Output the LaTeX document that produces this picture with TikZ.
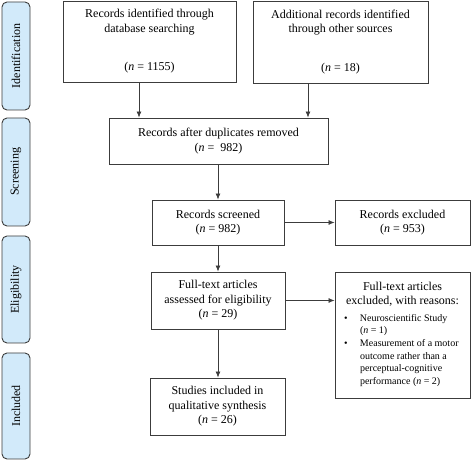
\documentclass[tikz,border=0pt]{standalone}
\usepackage{fontspec}
\setmainfont{Liberation Serif}
\usepackage{array}
\usetikzlibrary{arrows.meta}
\definecolor{phasefill}{HTML}{D2EAFA}
\definecolor{boxline}{HTML}{3C3C3C}
\newcommand{\nn}{\textit{n}}

\begin{document}
\begin{tikzpicture}[
    x=1pt, y=-1pt,
    flow box/.style={draw=boxline, line width=0.9pt, align=center, inner sep=2pt,
        font=\fontsize{12}{14.5}\selectfont},
    phase box/.style={draw=boxline, line width=0.9pt, fill=phasefill, rounded corners=5pt,
        rotate=90, minimum height=28pt, font=\fontsize{12}{14.5}\selectfont},
    flow arrow/.style={-{Latex[length=6pt,width=5pt]}, draw=boxline, line width=0.7pt},
    every node/.style={color=black}
    ]
    \useasboundingbox (0,0) rectangle (472,462);

    % phases
    \node[phase box, minimum width=108pt] (ident) at (16,56) {Identification};
    \node[phase box, minimum width=108pt] (screen) at (16,172) {Screening};
    \node[phase box, minimum width=107pt] (elig) at (16,289.5) {Eligibility};
    \node[phase box, minimum width=106pt] (incl) at (16,406) {Included};

    % records
    \node[flow box, minimum width=173pt, minimum height=81pt] (dbrec) at (149.5,41.5)
        {Records identified through\\database searching\\[24pt](\nn{} = 1155)};
    \node[flow box, minimum width=175pt, minimum height=82pt] (otherrec) at (340.5,42)
        {Additional records identified\\through other sources\\[24pt](\nn{} = 18)};
    \node[flow box, minimum width=219pt, minimum height=46pt] (dedup) at (218.5,141)
        {Records after duplicates removed\\(\nn{} =\ \ 982)};
    \node[flow box, minimum width=132pt, minimum height=45pt] (screened) at (218,222.5)
        {Records screened\\(\nn{} = 982)};
    \node[flow box, minimum width=135pt, minimum height=45pt] (excl) at (402.5,222.5)
        {Records excluded\\(\nn{} = 953)};
    \node[flow box, minimum width=134pt, minimum height=57pt] (fulltext) at (218,300.5)
        {Full-text articles\\assessed for eligibility\\(\nn{} = 29)};
    \node[flow box, minimum width=135pt, minimum height=126pt] (ftexcl) at (402.5,335)
        {Full-text articles\\excluded, with reasons:\\[5pt]
        {\fontsize{10}{12.6}\selectfont
        \begin{tabular}{@{}>{\raggedright}p{16pt}@{}>{\raggedright\arraybackslash}p{101pt}@{}}
        \textbullet & Neuroscientific Study\newline(\nn{} = 1)\\
        \textbullet & Measurement of a motor\newline outcome rather than a\newline
                      perceptual-cognitive\newline performance (\nn{} = 2)
        \end{tabular}}};
    \node[flow box, minimum width=135pt, minimum height=57pt] (studies) at (217.5,406.5)
        {Studies included in\\qualitative synthesis\\(\nn{} = 26)};

    % arrows
    \draw[flow arrow] (dbrec.south -| 139,0) -- (dedup.north -| 139,0);
    \draw[flow arrow] (otherrec.south -| 308,0) -- (dedup.north -| 308,0);
    \draw[flow arrow] (dedup.south -| screened.north) -- (screened.north);
    \draw[flow arrow] (screened.east) -- (excl.west);
    \draw[flow arrow] (screened.south) -- (fulltext.north);
    \draw[flow arrow] (fulltext.east) -- (fulltext.east -| ftexcl.west);
    \draw[flow arrow] (fulltext.south) -- (studies.north -| fulltext.south);

\end{tikzpicture}
\end{document}
